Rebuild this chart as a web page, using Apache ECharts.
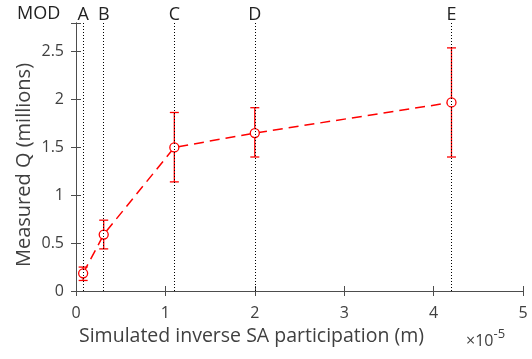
<!DOCTYPE html>
<html>
<head>
<meta charset="utf-8">
<script src="https://cdn.jsdelivr.net/npm/echarts@6/dist/echarts.min.js"></script>
<style>
  html, body { margin: 0; padding: 0; background: #fff; }
  #chart { width: 532px; height: 359px; }
</style>
</head>
<body>
<div id="chart"></div>
<script>
// points (x in units of 1e-5 m, y in millions)
const labels = ['A', 'B', 'C', 'D', 'E'];
const xVals = [0.08, 0.31, 1.1, 2.0, 4.2];
const yVals = [0.185, 0.59, 1.5, 1.65, 1.97];
const errLow = [0.11, 0.44, 1.14, 1.4, 1.4];
const errHigh = [0.25, 0.74, 1.865, 1.915, 2.54];
const yTicks = [0, 0.5, 1, 1.5, 2, 2.5];

const RED = '#ff0000';
const AXIS = '#4d4d4d';
const TXT = '#404040';
const FONT = 'Open Sans';

const chart = echarts.init(document.getElementById('chart'));

const axisCommon = {
  axisLine: {show: true, lineStyle: {color: AXIS, width: 1}},
  axisTick: {show: true, inside: true, length: 5, lineStyle: {color: AXIS}},
  splitLine: {show: false},
};

const option = {
  animation: false,
  grid: {left: 76, right: 9, top: 23, bottom: 68},
  xAxis: [
    {
      type: 'value', min: 0, max: 5, interval: 1, position: 'bottom',
      ...axisCommon,
      axisLabel: {color: TXT, fontSize: 16, fontFamily: FONT, margin: 14},
    },
    {
      type: 'value', min: 0, max: 5, interval: 1, position: 'top',
      ...axisCommon,
      axisLabel: {show: false},
    },
  ],
  yAxis: [
    {
      type: 'value', min: 0, max: 2.8, interval: 0.5, position: 'left',
      ...axisCommon,
      axisLabel: {
        color: TXT, fontSize: 16, fontFamily: FONT, margin: 12,
        formatter: (v) => (yTicks.includes(v) ? String(v) : ''),
      },
    },
    {
      type: 'value', min: 0, max: 2.8, interval: 0.5, position: 'right',
      ...axisCommon,
      axisLabel: {show: false},
    },
  ],
  graphic: [
    {
      type: 'text', left: 17, top: 5,
      style: {text: 'MOD', fill: '#222', fontSize: 18, fontFamily: FONT},
    },
    {
      type: 'text', x: 79, y: 336,
      style: {
        text: 'Simulated inverse SA participation (m)',
        fill: TXT, fontSize: 19.5, fontFamily: FONT, verticalAlign: 'middle',
      },
    },
    {
      type: 'text', x: 466, y: 341,
      style: {
        text: '×10{s|-5}', fill: TXT, fontSize: 16, fontFamily: FONT, verticalAlign: 'middle',
        rich: {s: {fontSize: 13, fill: TXT, fontFamily: FONT, verticalAlign: 'bottom', padding: [0, 0, 13, 0]}},
      },
    },
    {
      type: 'text', x: 24, y: 165, rotation: Math.PI / 2,
      style: {
        text: 'Measured Q (millions)', fill: TXT, fontSize: 20, fontFamily: FONT,
        align: 'center', verticalAlign: 'middle',
      },
    },
  ],
  series: [
    {
      type: 'line',
      data: xVals.map((x, i) => [x, yVals[i]]),
      symbol: 'circle',
      symbolSize: 9,
      itemStyle: {color: '#fff', borderColor: RED, borderWidth: 1.3},
      lineStyle: {color: RED, width: 1.5, type: [10, 6]},
      z: 4,
      markLine: {
        silent: true,
        symbol: ['none', 'none'],
        lineStyle: {color: '#000', type: [1, 2], width: 1},
        label: {
          show: true, position: 'end', distance: -1, color: '#222',
          fontSize: 18, fontFamily: FONT,
          formatter: (p) => p.name,
        },
        data: xVals.map((x, i) => ({name: labels[i], xAxis: x})),
      },
    },
    {
      type: 'custom',
      data: xVals.map((x, i) => [x, errLow[i], errHigh[i]]),
      encode: {x: 0, y: [1, 2]},
      z: 3,
      renderItem: (params, api) => {
        const x = api.value(0);
        const lo = api.coord([x, api.value(1)]);
        const hi = api.coord([x, api.value(2)]);
        const w = 4.5;
        const st = {stroke: RED, lineWidth: 1.3};
        return {
          type: 'group',
          children: [
            {type: 'line', shape: {x1: lo[0], y1: lo[1], x2: hi[0], y2: hi[1]}, style: st},
            {type: 'line', shape: {x1: lo[0] - w, y1: lo[1], x2: lo[0] + w, y2: lo[1]}, style: st},
            {type: 'line', shape: {x1: hi[0] - w, y1: hi[1], x2: hi[0] + w, y2: hi[1]}, style: st},
          ],
        };
      },
    },
  ],
};

chart.setOption(option);
</script>
</body>
</html>
